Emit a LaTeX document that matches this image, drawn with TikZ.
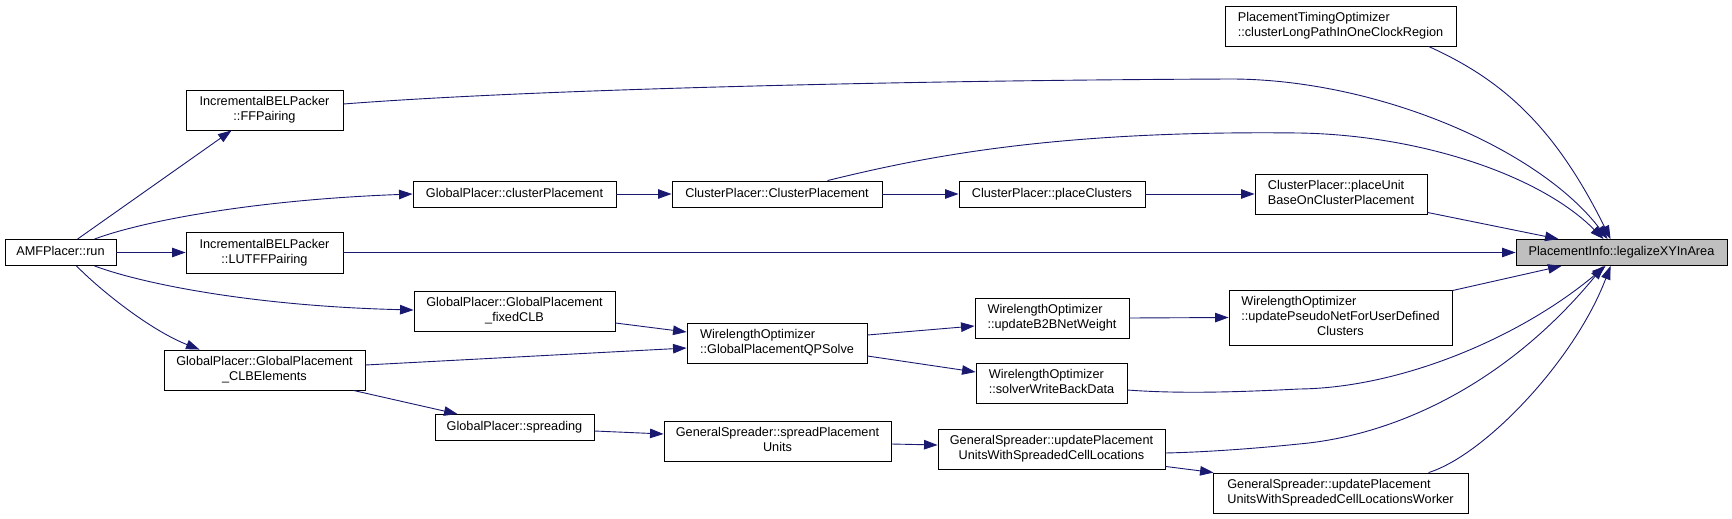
\documentclass[tikz,border=0pt]{standalone}
\usepackage{fontspec}
\setmainfont{Liberation Sans}
\usetikzlibrary{arrows.meta,calc}
\definecolor{edgeblue}{HTML}{191970}
\definecolor{rootgray}{HTML}{BFBFBF}
\newcommand{\Lone}[1]{\begin{tabular}{@{}c@{}}#1\end{tabular}}
\newcommand{\Ltwo}[2]{\begin{tabular}{@{}l@{}}#1\\\multicolumn{1}{@{}c@{}}{#2}\end{tabular}}
\newcommand{\Lthree}[3]{\begin{tabular}{@{}l@{}}#1\\#2\\\multicolumn{1}{@{}c@{}}{#3}\end{tabular}}
\begin{document}
\begin{tikzpicture}[x=1pt,y=-1pt,
  box/.style={draw=black, line width=0.9pt, fill=white, inner sep=0pt, font=\fontsize{12.7}{15}\selectfont},
  rootbox/.style={box, fill=rootgray},
  conn/.style={draw=edgeblue, line width=0.9pt, -{Triangle[length=13.5pt,width=9.5pt]}}]
\useasboundingbox (0,0) rectangle (1732,519);
\fill[white] (0,0) rectangle (1732,519);

\node[box, minimum width=111pt, minimum height=26pt] (run) at (60.5,252.5) {\Lone{AMFPlacer::run}};
\node[box, minimum width=157pt, minimum height=40pt] (ffp) at (264.5,110) {\Ltwo{IncrementalBELPacker}{::FFPairing}};
\node[box, minimum width=157pt, minimum height=41pt] (lut) at (264.5,252.5) {\Ltwo{IncrementalBELPacker}{::LUTFFPairing}};
\node[box, minimum width=201pt, minimum height=40pt] (clb) at (264.5,370) {\Ltwo{GlobalPlacer::GlobalPlacement}{\_CLBElements}};
\node[box, minimum width=203pt, minimum height=26pt] (gpc) at (514.5,194) {\Lone{GlobalPlacer::clusterPlacement}};
\node[box, minimum width=201pt, minimum height=40pt] (fix) at (514.5,311) {\Ltwo{GlobalPlacer::GlobalPlacement}{\_fixedCLB}};
\node[box, minimum width=159pt, minimum height=26pt] (spr) at (514.5,427.5) {\Lone{GlobalPlacer::spreading}};
\node[box, minimum width=210pt, minimum height=26pt] (cpc) at (777,194) {\Lone{ClusterPlacer::ClusterPlacement}};
\node[box, minimum width=180pt, minimum height=40pt] (qps) at (777,343) {\Ltwo{WirelengthOptimizer}{::GlobalPlacementQPSolve}};
\node[box, minimum width=227pt, minimum height=40pt] (spu) at (777.5,441) {\Ltwo{GeneralSpreader::spreadPlacement}{Units}};
\node[box, minimum width=186pt, minimum height=26pt] (pcl) at (1052,194) {\Lone{ClusterPlacer::placeClusters}};
\node[box, minimum width=154pt, minimum height=40pt] (b2b) at (1052,318) {\Ltwo{WirelengthOptimizer}{::updateB2BNetWeight}};
\node[box, minimum width=151pt, minimum height=40pt] (swb) at (1051.5,383) {\Ltwo{WirelengthOptimizer}{::solverWriteBackData}};
\node[box, minimum width=227pt, minimum height=40pt] (upu) at (1051.5,449) {\Ltwo{GeneralSpreader::updatePlacement}{UnitsWithSpreadedCellLocations}};
\node[box, minimum width=231pt, minimum height=40pt] (pto) at (1340.5,26) {\Ltwo{PlacementTimingOptimizer}{::clusterLongPathInOneClockRegion}};
\node[box, minimum width=172pt, minimum height=40pt] (pub) at (1341,194) {\Ltwo{ClusterPlacer::placeUnit}{BaseOnClusterPlacement}};
\node[box, minimum width=223pt, minimum height=55pt] (pse) at (1340.5,317.5) {\Lthree{WirelengthOptimizer}{::updatePseudoNetForUserDefined}{Clusters}};
\node[box, minimum width=255pt, minimum height=40pt] (wrk) at (1340.5,493) {\Ltwo{GeneralSpreader::updatePlacement}{UnitsWithSpreadedCellLocationsWorker}};
\node[rootbox, minimum width=211pt, minimum height=26pt] (leg) at (1621.5,252.5) {\Lone{PlacementInfo::legalizeXYInArea}};

% connectors from AMFPlacer::run
\draw[conn] ($(run.north west)+(73,0)$) -- ($(ffp.south west)+(46,0)$);
\draw[conn] ($(run.north west)+(90,0)$) .. controls (140,222) and (250,200) .. (gpc.west);
\draw[conn] (run.east) -- (lut.west);
\draw[conn] ($(run.south west)+(90,0)$) .. controls (140,283) and (250,306) .. ($(fix.west)+(0,-1)$);
\draw[conn] ($(run.south west)+(72,0)$) .. controls (100,290) and (150,330) .. ($(clb.north west)+(36,0)$);

% long connectors to legalize
\draw[conn] ($(ffp.east)+(0,-6)$) .. controls (550,88) and (950,80) .. (1233,79) .. controls (1380,80) and (1540,150) .. ($(leg.north west)+(92,0)$);
\draw[conn] ($(cpc.north west)+(156,0)$) .. controls (920,158) and (1050,130) .. (1299,133) .. controls (1420,135) and (1540,175) .. ($(leg.north west)+(88,0)$);
\draw[conn] ($(pto.south west)+(204,0)$) .. controls (1503,80) and (1555,127) .. ($(leg.north west)+(95,0)$);
\draw[conn] ($(pub.south east)+(0,-2)$) -- ($(leg.north west)+(43,0)$);
\draw[conn] (lut.east) -- (leg.west);
\draw[conn] ($(pse.north east)+(0,1)$) -- ($(leg.south west)+(46,0)$);
\draw[conn] ($(swb.east)+(0,7)$) .. controls (1180,394) and (1240,392) .. (1299,389) .. controls (1400,388) and (1520,338) .. ($(leg.south west)+(90,0)$);
\draw[conn] ($(upu.east)+(0,4)$) .. controls (1210,452) and (1260,448) .. (1299,444) .. controls (1400,435) and (1510,380) .. ($(leg.south west)+(88,0)$);
\draw[conn] ($(wrk.north west)+(216,0)$) .. controls (1485,455) and (1575,360) .. ($(leg.south west)+(95,0)$);

% chain connectors
\draw[conn] (gpc.east) -- (cpc.west);
\draw[conn] (cpc.east) -- (pcl.west);
\draw[conn] (pcl.east) -- (pub.west);
\draw[conn] ($(fix.east)+(0,12)$) -- ($(qps.west)+(0,-11)$);
\draw[conn] ($(clb.east)+(0,-5)$) -- ($(qps.west)+(0,5)$);
\draw[conn] ($(clb.south east)+(-12,0)$) -- ($(spr.north west)+(23,0)$);
\draw[conn] ($(qps.east)+(0,-8)$) -- ($(b2b.west)+(0,8)$);
\draw[conn] ($(qps.east)+(0,13)$) -- ($(swb.west)+(0,-11)$);
\draw[conn] (b2b.east) -- (pse.west);
\draw[conn] ($(spr.east)+(0,3.5)$) -- ($(spu.west)+(0,-7)$);
\draw[conn] ($(spu.east)+(0,3)$) -- ($(upu.west)+(0,-4)$);
\draw[conn] ($(upu.south east)+(0,-3)$) -- ($(wrk.north west)+(1,0)$);
\end{tikzpicture}
\end{document}
